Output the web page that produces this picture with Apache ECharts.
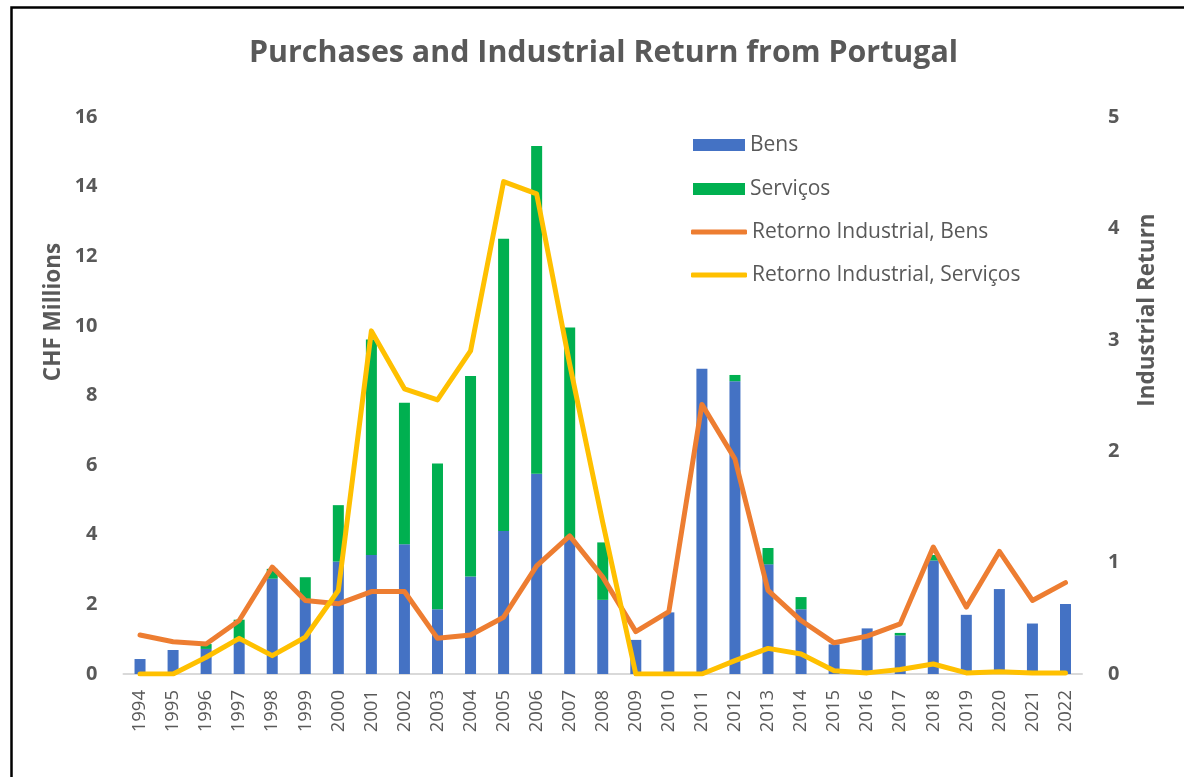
<!DOCTYPE html>
<html>
<head>
<meta charset="utf-8">
<script src="https://cdn.jsdelivr.net/npm/echarts@6/dist/echarts.min.js"></script>
<style>
html,body{margin:0;padding:0;background:#fff;}
#chart{width:1184px;height:777px;}
</style>
</head>
<body>
<div id="chart"></div>
<script>
var years = ['1994','1995','1996','1997','1998','1999','2000','2001','2002','2003','2004','2005','2006','2007','2008','2009','2010','2011','2012','2013','2014','2015','2016','2017','2018','2019','2020','2021','2022'];
var bens = [0.43,0.69,0.72,0.94,2.74,2.13,3.23,3.42,3.73,1.86,2.80,4.11,5.75,3.90,2.13,0.98,1.77,8.77,8.41,3.15,1.86,0.85,1.31,1.11,3.26,1.70,2.44,1.45,2.01];
var servicos = [0,0,0.14,0.62,0.28,0.65,1.62,6.19,4.06,4.19,5.76,8.39,9.42,6.05,1.65,0,0,0,0.18,0.47,0.35,0,0,0.07,0.16,0,0,0,0];
var retornoBens = [0.35,0.29,0.27,0.48,0.96,0.66,0.63,0.74,0.74,0.32,0.35,0.51,0.97,1.24,0.87,0.38,0.56,2.42,1.93,0.75,0.48,0.28,0.34,0.45,1.14,0.60,1.10,0.66,0.82];
var retornoServicos = [0,0,0.15,0.32,0.165,0.33,0.75,3.08,2.56,2.46,2.90,4.42,4.31,2.78,1.36,0,0,0,0.12,0.23,0.18,0.03,0.01,0.04,0.09,0.01,0.02,0.01,0.01];
var leftTicks = {min:0, max:16, interval:2};
var rightTicks = {min:0, max:5, interval:1};

var FONT = '"Open Sans", "Noto Sans", sans-serif';
var GREY = '#595959';
var chart = echarts.init(document.getElementById('chart'), null, {renderer:'canvas'});

function legendAt(name, top, left, w, h, icon) {
  return {
    data:[{name:name, icon:icon}], left:left, top:top, orient:'vertical',
    itemWidth:w, itemHeight:h, itemGap:0,
    textStyle:{fontFamily:FONT, fontSize:21, color:GREY, lineHeight:24},
    selectedMode:false
  };
}

var option = {
  backgroundColor:'#fff',
  animation:false,
  title:{
    text:'Purchases and Industrial Return from Portugal',
    left:244, top:33,
    textStyle:{fontFamily:FONT, fontSize:30.4, fontWeight:'bold', color:GREY}
  },
  legend:[
    legendAt('Bens', 128, 688, 52, 12, 'rect'),
    legendAt('Serviços', 172, 688, 52, 12, 'rect'),
    legendAt('Retorno Industrial, Bens', 215, 686, 56, 5, 'roundRect'),
    legendAt('Retorno Industrial, Serviços', 258, 686, 56, 5, 'roundRect')
  ],
  grid:{left:123.5, right:102, top:117, bottom:103, containLabel:false},
  xAxis:{
    type:'category', data:years,
    axisLine:{lineStyle:{color:'#d9d9d9', width:2}},
    axisTick:{show:false},
    axisLabel:{rotate:90, fontFamily:FONT, fontSize:18.5, color:GREY, margin:16},
    splitLine:{show:false}
  },
  yAxis:[
    {
      type:'value', min:leftTicks.min, max:leftTicks.max, interval:leftTicks.interval,
      axisLine:{show:false}, axisTick:{show:false}, splitLine:{show:false},
      axisLabel:{fontFamily:FONT, fontSize:20, fontWeight:'bold', color:GREY, margin:26}
    },
    {
      type:'value', min:rightTicks.min, max:rightTicks.max, interval:rightTicks.interval,
      axisLine:{show:false}, axisTick:{show:false}, splitLine:{show:false},
      axisLabel:{fontFamily:FONT, fontSize:20, fontWeight:'bold', color:GREY, margin:26}
    }
  ],
  series:[
    {name:'Bens', type:'bar', stack:'s', data:bens, barWidth:11, itemStyle:{color:'#4472C4'}, yAxisIndex:0},
    {name:'Serviços', type:'bar', stack:'s', data:servicos, barWidth:11, itemStyle:{color:'#00B050'}, yAxisIndex:0},
    {name:'Retorno Industrial, Bens', type:'line', data:retornoBens, yAxisIndex:1, symbol:'none', showSymbol:false,
     lineStyle:{color:'#ED7D31', width:5, cap:'round', join:'round'}, itemStyle:{color:'#ED7D31'}, z:3},
    {name:'Retorno Industrial, Serviços', type:'line', data:retornoServicos, yAxisIndex:1, symbol:'none', showSymbol:false,
     lineStyle:{color:'#FFC000', width:5, cap:'round', join:'round'}, itemStyle:{color:'#FFC000'}, z:4}
  ],
  graphic:[
    {type:'rect', left:9, top:5, shape:{x:0,y:0,width:1200,height:800},
     style:{fill:'none', stroke:'#000', lineWidth:2.5}, silent:true, z:100},
    {type:'text', x:54, y:312, rotation:Math.PI/2, silent:true,
     style:{text:'CHF Millions', fontFamily:FONT, fontSize:22.5, fontWeight:'bold', fill:GREY, align:'center', verticalAlign:'middle'}},
    {type:'text', x:1148, y:310, rotation:Math.PI/2, silent:true,
     style:{text:'Industrial Return', fontFamily:FONT, fontSize:22.5, fontWeight:'bold', fill:GREY, align:'center', verticalAlign:'middle'}}
  ]
};
chart.setOption(option);
</script>
</body>
</html>
